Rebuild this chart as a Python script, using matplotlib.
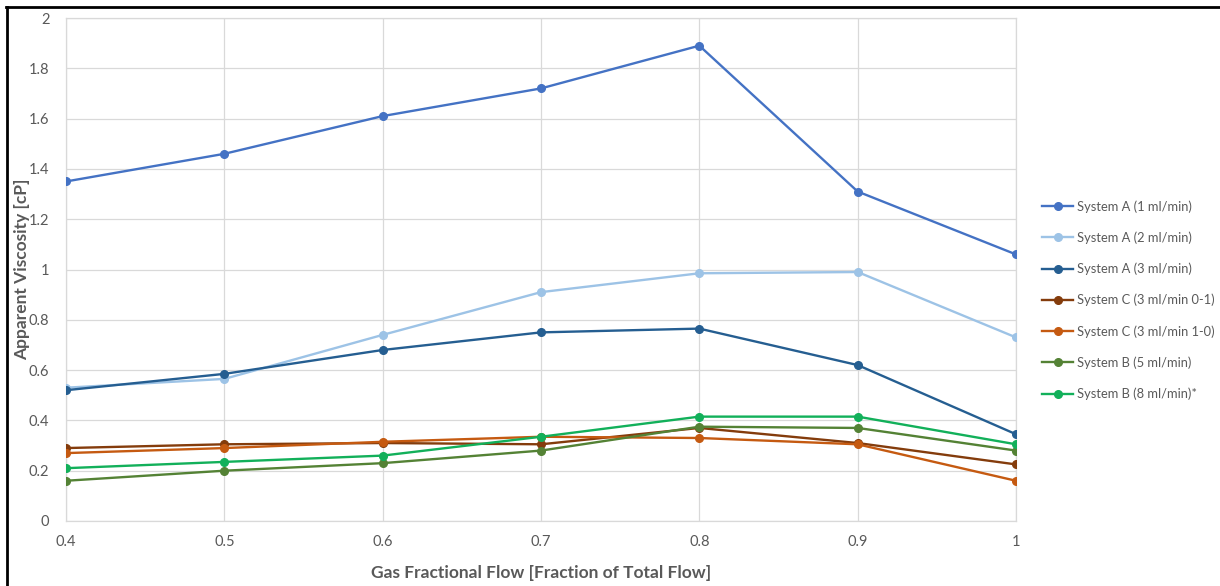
import matplotlib
matplotlib.use("Agg")
import matplotlib.pyplot as plt
from matplotlib import font_manager
from matplotlib.lines import Line2D

# Data: apparent viscosity vs gas fractional flow
gas_fraction = [0.4, 0.5, 0.6, 0.7, 0.8, 0.9, 1.0]

series_labels = [
    "System A (1 ml/min)",
    "System A (2 ml/min)",
    "System A (3 ml/min)",
    "System C (3 ml/min 0-1)",
    "System C (3 ml/min 1-0)",
    "System B (5 ml/min)",
    "System B (8 ml/min)*",
]

sys_a_1 = [1.35, 1.46, 1.61, 1.72, 1.89, 1.31, 1.06]
sys_a_2 = [0.53, 0.565, 0.74, 0.91, 0.985, 0.99, 0.73]
sys_a_3 = [0.52, 0.585, 0.68, 0.75, 0.765, 0.62, 0.345]
sys_c_01 = [0.29, 0.305, 0.31, 0.305, 0.37, 0.31, 0.225]
sys_c_10 = [0.27, 0.29, 0.315, 0.335, 0.33, 0.305, 0.16]
sys_b_5 = [0.16, 0.2, 0.23, 0.28, 0.375, 0.37, 0.28]
sys_b_8 = [0.21, 0.235, 0.26, 0.335, 0.415, 0.415, 0.305]

series_values = [sys_a_1, sys_a_2, sys_a_3, sys_c_01, sys_c_10, sys_b_5, sys_b_8]
series_colors = ["#4472C4", "#9DC3E6", "#255E91", "#843C0C",
                 "#C55A11", "#548235", "#12B05A"]

x_ticks = [0.4, 0.5, 0.6, 0.7, 0.8, 0.9, 1.0]
x_tick_labels = ["0.4", "0.5", "0.6", "0.7", "0.8", "0.9", "1"]
y_ticks = [0, 0.2, 0.4, 0.6, 0.8, 1.0, 1.2, 1.4, 1.6, 1.8, 2.0]
y_tick_labels = ["0", "0.2", "0.4", "0.6", "0.8", "1", "1.2", "1.4", "1.6", "1.8", "2"]

available = {f.name for f in font_manager.fontManager.ttflist}
base_font = next((f for f in ["Liberation Sans Narrow", "Lato", "Open Sans"]
                  if f in available), "DejaVu Sans")
plt.rcParams["font.family"] = [base_font, "DejaVu Sans"]

W, H = 1220, 586
fig = plt.figure(figsize=(W / 100, H / 100), dpi=100)
fig.patch.set_facecolor("white")

ax = fig.add_axes([66 / W, 1 - 521 / H, (1016 - 66) / W, (521 - 18) / H])

for vals, color, label in zip(series_values, series_colors, series_labels):
    ax.plot(gas_fraction, vals, color=color, lw=1.7, marker="o",
            markersize=5.5, label=label, solid_joinstyle="round", zorder=3)

ax.set_xlim(0.4, 1.0)
ax.set_ylim(0, 2)
ax.set_xticks(x_ticks)
ax.set_xticklabels(x_tick_labels)
ax.set_yticks(y_ticks)
ax.set_yticklabels(y_tick_labels)
ax.grid(True, color="#D9D9D9", lw=0.9, zorder=0)
for side in ax.spines.values():
    side.set_color("#D9D9D9")
    side.set_linewidth(0.9)
ax.tick_params(length=0, colors="#595959", labelsize=10.5)
ax.tick_params(axis="x", pad=10)
ax.tick_params(axis="y", pad=12)

ax.set_xlabel("Gas Fractional Flow [Fraction of Total Flow]", fontsize=12.5,
              fontweight="bold", color="#595959")
ax.set_ylabel("Apparent Viscosity [cP]", fontsize=12.5,
              fontweight="bold", color="#595959")
ax.xaxis.set_label_coords(0.5, -(573 - 521) / (521 - 18), transform=ax.transAxes)
ax.yaxis.set_label_coords(-(66 - 22) / (1016 - 66), 0.5, transform=ax.transAxes)
ax.xaxis.label.set_va("center")
ax.yaxis.label.set_va("center")

handles, labels = ax.get_legend_handles_labels()
fig.legend(handles, labels, loc="upper left",
           bbox_to_anchor=(1042 / W, 1 - 200 / H), frameon=False,
           fontsize=9.3, labelcolor="#595959", handlelength=2.4,
           handletextpad=0.3, labelspacing=1.45, borderpad=0,
           borderaxespad=0)

# Outer frame along top and left edges
fig.add_artist(Line2D([6 / W, 1], [1 - 6.5 / H, 1 - 6.5 / H],
                      transform=fig.transFigure, color="black", lw=2))
fig.add_artist(Line2D([7 / W, 7 / W], [0, 1 - 6.5 / H],
                      transform=fig.transFigure, color="black", lw=2))

fig.savefig("out.png", dpi=100)
